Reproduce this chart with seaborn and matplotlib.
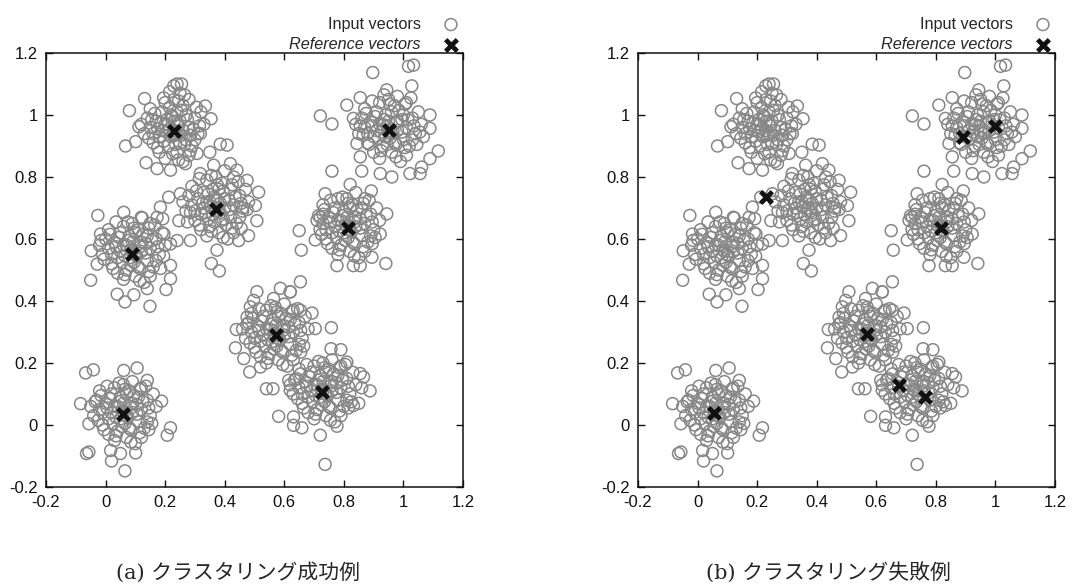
import numpy as np
import pandas as pd
import matplotlib
matplotlib.use("Agg")
import matplotlib.pyplot as plt
import seaborn as sns

# input vectors (x, y)
cluster_1 = [
    (0.23, 0.95), (0.20, 0.97), (0.25, 0.98), (0.18, 0.93), (0.27, 0.92), (0.22, 1.00), (0.26, 1.03),
    (0.19, 1.01), (0.15, 0.96), (0.16, 0.91), (0.21, 0.90), (0.24, 0.88), (0.28, 0.96), (0.30, 0.99),
    (0.29, 0.90), (0.17, 0.98), (0.13, 0.94), (0.14, 0.99), (0.23, 1.05), (0.25, 1.07), (0.20, 0.86),
    (0.26, 0.85), (0.31, 0.94), (0.32, 1.01), (0.27, 1.00), (0.22, 0.93), (0.19, 0.95), (0.24, 0.94),
    (0.21, 0.97), (0.26, 0.95), (0.18, 0.88), (0.28, 0.87), (0.15, 1.02), (0.30, 0.92), (0.23, 0.98),
    (0.24, 1.01), (0.33, 0.97), (0.12, 0.97), (0.20, 1.04), (0.28, 1.05), (0.16, 0.94), (0.25, 0.91),
    (0.215, 0.955), (0.235, 0.935), (0.245, 0.965), (0.205, 0.985), (0.255, 1.015), (0.195, 0.915),
    (0.225, 0.875), (0.265, 0.905), (0.285, 0.935), (0.175, 0.955), (0.165, 1.005), (0.215, 1.025),
    (0.245, 1.045), (0.275, 0.985), (0.295, 0.955), (0.185, 0.975), (0.235, 0.905), (0.255, 0.935),
    (0.205, 0.945), (0.225, 0.995), (0.265, 1.065), (0.155, 0.985), (0.145, 0.925), (0.305, 1.025),
    (0.195, 1.055), (0.285, 0.885), (0.175, 0.895), (0.315, 0.965), (0.215, 1.075), (0.245, 0.855),
    (0.080, 1.014), (0.131, 1.053), (0.067, 0.900), (0.136, 0.846), (0.229, 1.094), (0.240, 1.100),
    (0.255, 1.100), (0.335, 1.029), (0.354, 0.988), (0.173, 0.827), (0.218, 0.822), (0.112, 0.962),
    (0.101, 0.914), (0.318, 0.940), (0.307, 0.876), (0.268, 0.843), (0.350, 0.880),
]
cluster_2 = [
    (0.37, 0.70), (0.34, 0.72), (0.40, 0.73), (0.32, 0.68), (0.42, 0.67), (0.36, 0.76), (0.39, 0.78),
    (0.33, 0.75), (0.29, 0.71), (0.30, 0.66), (0.35, 0.64), (0.38, 0.62), (0.43, 0.71), (0.45, 0.74),
    (0.44, 0.65), (0.31, 0.73), (0.27, 0.69), (0.28, 0.74), (0.37, 0.80), (0.40, 0.82), (0.34, 0.61),
    (0.41, 0.60), (0.46, 0.69), (0.47, 0.76), (0.42, 0.76), (0.36, 0.68), (0.33, 0.70), (0.38, 0.69),
    (0.35, 0.72), (0.40, 0.70), (0.32, 0.63), (0.43, 0.62), (0.29, 0.77), (0.45, 0.67), (0.37, 0.73),
    (0.38, 0.76), (0.48, 0.72), (0.26, 0.72), (0.34, 0.79), (0.43, 0.80), (0.30, 0.69), (0.39, 0.66),
    (0.355, 0.705), (0.385, 0.685), (0.365, 0.735), (0.345, 0.665), (0.395, 0.755), (0.325, 0.715),
    (0.415, 0.695), (0.405, 0.645), (0.355, 0.625), (0.435, 0.735), (0.315, 0.645), (0.375, 0.775),
    (0.425, 0.775), (0.305, 0.755), (0.455, 0.715), (0.345, 0.745), (0.385, 0.715), (0.335, 0.685),
    (0.395, 0.665), (0.365, 0.655), (0.425, 0.635), (0.285, 0.685), (0.445, 0.785), (0.355, 0.805),
    (0.475, 0.695), (0.315, 0.795), (0.395, 0.605), (0.275, 0.655), (0.455, 0.635), (0.415, 0.725),
    (0.385, 0.906), (0.408, 0.903), (0.419, 0.843), (0.441, 0.822), (0.475, 0.789), (0.514, 0.751),
    (0.503, 0.708), (0.508, 0.659), (0.480, 0.611), (0.447, 0.595), (0.374, 0.564), (0.355, 0.521),
    (0.382, 0.497), (0.212, 0.735), (0.184, 0.703), (0.173, 0.670), (0.192, 0.665), (0.251, 0.746),
    (0.246, 0.659), (0.285, 0.595), (0.240, 0.595), (0.318, 0.811), (0.363, 0.838), (0.460, 0.700),
]
cluster_3 = [
    (0.09, 0.56), (0.06, 0.58), (0.12, 0.59), (0.04, 0.54), (0.14, 0.53), (0.08, 0.61), (0.11, 0.63),
    (0.05, 0.62), (0.01, 0.57), (0.02, 0.52), (0.07, 0.50), (0.10, 0.48), (0.15, 0.57), (0.17, 0.60),
    (0.16, 0.51), (0.03, 0.59), (-0.01, 0.55), (0.00, 0.60), (0.09, 0.65), (0.12, 0.67), (0.06, 0.47),
    (0.13, 0.46), (0.18, 0.55), (0.19, 0.62), (0.14, 0.61), (0.08, 0.54), (0.05, 0.56), (0.10, 0.55),
    (0.07, 0.58), (0.12, 0.56), (0.04, 0.49), (0.15, 0.48), (0.01, 0.63), (0.17, 0.53), (0.09, 0.59),
    (0.10, 0.62), (0.20, 0.58), (-0.02, 0.58), (0.06, 0.64), (0.15, 0.65), (0.02, 0.55), (0.11, 0.51),
    (0.085, 0.565), (0.105, 0.545), (0.075, 0.595), (0.055, 0.525), (0.125, 0.615), (0.035, 0.575),
    (0.135, 0.555), (0.115, 0.505), (0.065, 0.485), (0.155, 0.595), (0.025, 0.505), (0.095, 0.635),
    (0.145, 0.635), (0.015, 0.615), (0.175, 0.575), (0.045, 0.605), (0.095, 0.525), (0.065, 0.545),
    (0.115, 0.575), (0.085, 0.515), (0.145, 0.495), (-0.005, 0.535), (0.165, 0.645), (0.075, 0.655),
    (0.195, 0.545), (0.035, 0.655), (0.115, 0.465), (-0.015, 0.595), (0.185, 0.505), (0.135, 0.585),
    (-0.026, 0.676), (0.061, 0.686), (0.123, 0.668), (-0.048, 0.562), (-0.050, 0.467), (-0.017, 0.616),
    (0.065, 0.397), (0.149, 0.383), (0.218, 0.472), (0.203, 0.437), (0.218, 0.515), (0.196, 0.616),
    (0.218, 0.584), (0.095, 0.420), (0.140, 0.440), (-0.028, 0.519), (0.039, 0.422),
]
cluster_4 = [
    (0.95, 0.95), (0.92, 0.97), (0.98, 0.98), (0.90, 0.93), (1.00, 0.92), (0.94, 1.00), (0.97, 1.03),
    (0.91, 1.01), (0.87, 0.96), (0.88, 0.91), (0.93, 0.90), (0.96, 0.88), (1.01, 0.96), (1.03, 0.99),
    (1.02, 0.90), (0.89, 0.98), (0.85, 0.94), (0.86, 0.99), (0.95, 1.05), (0.98, 1.06), (0.92, 0.86),
    (0.99, 0.85), (1.04, 0.94), (1.05, 1.01), (1.00, 1.00), (0.94, 0.93), (0.91, 0.95), (0.96, 0.94),
    (0.93, 0.97), (0.98, 0.95), (0.90, 0.88), (1.01, 0.87), (0.87, 1.02), (1.03, 0.92), (0.95, 0.98),
    (0.96, 1.01), (1.06, 0.97), (0.84, 0.97), (0.92, 1.04), (1.01, 1.04), (0.88, 0.94), (0.97, 0.91),
    (0.945, 0.965), (0.965, 0.945), (0.935, 0.985), (0.915, 0.925), (0.985, 1.015), (0.895, 0.965),
    (0.995, 0.945), (0.975, 0.905), (0.925, 0.885), (1.015, 0.985), (0.885, 0.905), (0.955, 1.035),
    (1.005, 1.035), (0.875, 1.005), (1.035, 0.965), (0.905, 0.995), (0.955, 0.925), (0.925, 0.945),
    (0.975, 0.975), (0.945, 0.905), (1.005, 0.895), (0.865, 0.935), (1.025, 1.055), (0.935, 1.065),
    (1.055, 0.945), (0.895, 1.045), (0.975, 0.865), (0.855, 0.965), (1.045, 0.905), (0.995, 0.985),
    (0.897, 1.137), (1.017, 1.157), (1.034, 1.161), (0.944, 1.081), (1.028, 1.094), (0.855, 1.056),
    (0.810, 1.032), (0.721, 0.997), (0.760, 0.971), (0.832, 0.989), (1.089, 1.000), (1.089, 0.957),
    (1.117, 0.884), (1.089, 0.859), (1.061, 0.832), (1.022, 0.811), (1.056, 0.811), (0.961, 0.800),
    (0.922, 0.811), (0.860, 0.819), (0.844, 0.908), (0.855, 0.865), (1.067, 0.930),
]
cluster_5 = [
    (0.81, 0.64), (0.78, 0.66), (0.84, 0.67), (0.76, 0.62), (0.86, 0.61), (0.80, 0.69), (0.83, 0.71),
    (0.77, 0.70), (0.73, 0.65), (0.74, 0.60), (0.79, 0.58), (0.82, 0.56), (0.87, 0.65), (0.89, 0.68),
    (0.88, 0.59), (0.75, 0.67), (0.72, 0.63), (0.73, 0.68), (0.81, 0.73), (0.84, 0.75), (0.78, 0.55),
    (0.85, 0.54), (0.90, 0.63), (0.91, 0.70), (0.86, 0.70), (0.80, 0.62), (0.77, 0.64), (0.82, 0.63),
    (0.79, 0.66), (0.84, 0.64), (0.76, 0.57), (0.87, 0.56), (0.73, 0.71), (0.89, 0.61), (0.81, 0.67),
    (0.82, 0.70), (0.92, 0.66), (0.71, 0.66), (0.78, 0.73), (0.87, 0.73), (0.74, 0.63), (0.83, 0.59),
    (0.805, 0.645), (0.825, 0.625), (0.795, 0.675), (0.775, 0.605), (0.845, 0.695), (0.755, 0.655),
    (0.855, 0.635), (0.835, 0.585), (0.785, 0.565), (0.875, 0.675), (0.745, 0.585), (0.815, 0.715),
    (0.865, 0.715), (0.735, 0.695), (0.895, 0.655), (0.765, 0.685), (0.815, 0.605), (0.785, 0.625),
    (0.835, 0.655), (0.805, 0.595), (0.865, 0.575), (0.725, 0.615), (0.885, 0.725), (0.795, 0.735),
    (0.905, 0.605), (0.755, 0.725), (0.835, 0.545), (0.715, 0.675), (0.895, 0.585), (0.855, 0.665),
    (0.821, 0.776), (0.892, 0.755), (0.944, 0.681), (0.941, 0.521), (0.704, 0.597), (0.777, 0.514),
    (0.832, 0.514), (0.855, 0.514), (0.894, 0.541), (0.737, 0.746), (0.922, 0.616), (0.721, 0.670),
    (0.650, 0.627), (0.657, 0.564), (0.760, 0.819),
]
cluster_6 = [
    (0.57, 0.29), (0.54, 0.31), (0.60, 0.32), (0.52, 0.27), (0.62, 0.26), (0.56, 0.34), (0.59, 0.36),
    (0.53, 0.35), (0.49, 0.30), (0.50, 0.25), (0.55, 0.23), (0.58, 0.21), (0.63, 0.30), (0.65, 0.33),
    (0.64, 0.24), (0.51, 0.32), (0.47, 0.28), (0.48, 0.33), (0.57, 0.38), (0.60, 0.39), (0.54, 0.20),
    (0.61, 0.19), (0.66, 0.28), (0.67, 0.35), (0.62, 0.34), (0.56, 0.27), (0.53, 0.29), (0.58, 0.28),
    (0.55, 0.31), (0.60, 0.29), (0.52, 0.22), (0.63, 0.21), (0.49, 0.36), (0.65, 0.26), (0.57, 0.32),
    (0.58, 0.35), (0.68, 0.31), (0.46, 0.31), (0.54, 0.37), (0.63, 0.37), (0.50, 0.28), (0.59, 0.24),
    (0.565, 0.295), (0.585, 0.275), (0.555, 0.325), (0.535, 0.255), (0.605, 0.345), (0.515, 0.305),
    (0.615, 0.285), (0.595, 0.235), (0.545, 0.215), (0.635, 0.325), (0.505, 0.235), (0.575, 0.365),
    (0.625, 0.365), (0.495, 0.345), (0.655, 0.305), (0.525, 0.335), (0.575, 0.255), (0.545, 0.275),
    (0.595, 0.305), (0.565, 0.245), (0.625, 0.225), (0.485, 0.265), (0.645, 0.375), (0.555, 0.385),
    (0.665, 0.255), (0.515, 0.375), (0.595, 0.195), (0.475, 0.325), (0.655, 0.235), (0.615, 0.315),
    (0.439, 0.308), (0.436, 0.249), (0.464, 0.214), (0.484, 0.171), (0.520, 0.187), (0.540, 0.117),
    (0.562, 0.117), (0.581, 0.028), (0.486, 0.381), (0.475, 0.348), (0.693, 0.361), (0.654, 0.370),
    (0.704, 0.311), (0.497, 0.402), (0.564, 0.408), (0.654, 0.462), (0.620, 0.430), (0.587, 0.441),
    (0.508, 0.430), (0.620, 0.429),
]
cluster_7 = [
    (0.73, 0.11), (0.70, 0.13), (0.76, 0.14), (0.68, 0.09), (0.78, 0.08), (0.72, 0.16), (0.75, 0.18),
    (0.69, 0.17), (0.65, 0.12), (0.66, 0.07), (0.71, 0.05), (0.74, 0.03), (0.79, 0.12), (0.81, 0.15),
    (0.80, 0.06), (0.67, 0.14), (0.63, 0.10), (0.64, 0.15), (0.73, 0.20), (0.76, 0.21), (0.70, 0.02),
    (0.77, 0.01), (0.82, 0.10), (0.83, 0.17), (0.78, 0.16), (0.72, 0.09), (0.69, 0.11), (0.74, 0.10),
    (0.71, 0.13), (0.76, 0.11), (0.68, 0.04), (0.79, 0.03), (0.65, 0.18), (0.81, 0.08), (0.73, 0.14),
    (0.74, 0.17), (0.84, 0.13), (0.62, 0.13), (0.70, 0.19), (0.79, 0.19), (0.66, 0.10), (0.75, 0.06),
    (0.725, 0.115), (0.745, 0.095), (0.715, 0.145), (0.695, 0.075), (0.765, 0.165), (0.675, 0.125),
    (0.775, 0.105), (0.755, 0.055), (0.705, 0.035), (0.795, 0.145), (0.665, 0.055), (0.735, 0.185),
    (0.785, 0.185), (0.655, 0.165), (0.815, 0.125), (0.685, 0.155), (0.735, 0.075), (0.705, 0.095),
    (0.755, 0.125), (0.725, 0.065), (0.785, 0.045), (0.645, 0.085), (0.805, 0.195), (0.715, 0.205),
    (0.825, 0.075), (0.675, 0.195), (0.755, 0.015), (0.635, 0.145), (0.815, 0.055), (0.775, 0.135),
    (0.758, 0.314), (0.757, 0.246), (0.790, 0.243), (0.810, 0.203), (0.855, 0.166), (0.866, 0.155),
    (0.888, 0.110), (0.832, 0.063), (0.777, -0.004), (0.721, -0.033), (0.737, -0.127), (0.631, -0.001),
    (0.659, -0.009), (0.615, 0.144), (0.620, 0.112), (0.631, 0.026), (0.860, 0.120), (0.850, 0.070),
]
cluster_8 = [
    (0.06, 0.04), (0.03, 0.06), (0.09, 0.07), (0.01, 0.02), (0.11, 0.01), (0.05, 0.09), (0.08, 0.11),
    (0.02, 0.10), (-0.02, 0.05), (-0.01, 0.00), (0.04, -0.02), (0.07, -0.04), (0.12, 0.05), (0.14, 0.08),
    (0.13, -0.01), (0.00, 0.07), (-0.04, 0.03), (-0.03, 0.08), (0.06, 0.13), (0.09, 0.14), (0.03, -0.05),
    (0.10, -0.06), (0.15, 0.03), (0.16, 0.10), (0.11, 0.09), (0.05, 0.02), (0.02, 0.04), (0.07, 0.03),
    (0.04, 0.06), (0.09, 0.04), (0.01, -0.03), (0.12, -0.04), (-0.02, 0.11), (0.14, 0.01), (0.06, 0.07),
    (0.07, 0.10), (0.17, 0.06), (-0.05, 0.06), (0.03, 0.12), (0.12, 0.12), (-0.01, 0.04), (0.08, -0.01),
    (0.055, 0.045), (0.075, 0.025), (0.045, 0.075), (0.025, 0.005), (0.095, 0.095), (0.005, 0.055),
    (0.105, 0.035), (0.085, -0.015), (0.035, -0.035), (0.125, 0.075), (-0.005, -0.015), (0.065, 0.115),
    (0.115, 0.115), (-0.015, 0.095), (0.145, 0.055), (0.015, 0.085), (0.065, 0.005), (0.035, 0.025),
    (0.085, 0.055), (0.055, -0.005), (0.115, -0.025), (-0.025, 0.015), (0.135, 0.125), (0.045, 0.135),
    (0.155, 0.005), (0.005, 0.125), (0.085, -0.055), (-0.035, 0.075), (0.145, -0.015), (0.105, 0.065),
    (-0.067, 0.168), (-0.041, 0.178), (-0.084, 0.069), (-0.064, -0.092), (-0.056, -0.087), (0.020, -0.116),
    (0.065, -0.148), (0.101, -0.090), (0.188, 0.077), (0.218, -0.009), (0.207, -0.033), (0.106, 0.184),
    (0.140, 0.144), (0.061, 0.176), (0.017, -0.082), (0.050, -0.092), (-0.056, 0.004),
]

# reference vectors
ref_a_x = [0.229, 0.371, 0.089, 0.952, 0.813, 0.572, 0.726, 0.057]
ref_a_y = [0.948, 0.697, 0.551, 0.951, 0.635, 0.289, 0.106, 0.037]
ref_b_x = [0.891, 0.998, 0.230, 0.817, 0.569, 0.675, 0.763, 0.054]
ref_b_y = [0.930, 0.964, 0.737, 0.635, 0.295, 0.128, 0.090, 0.039]

tick_vals = [-0.2, 0, 0.2, 0.4, 0.6, 0.8, 1, 1.2]
tick_labels = ["-0.2", "0", "0.2", "0.4", "0.6", "0.8", "1", "1.2"]
captions = ["(a) クラスタリング成功例", "(b) クラスタリング失敗例"]

clusters = [cluster_1, cluster_2, cluster_3, cluster_4, cluster_5, cluster_6, cluster_7, cluster_8]
inputs = pd.DataFrame([p for c in clusters for p in c], columns=["x", "y"])
refs = [pd.DataFrame({"x": ref_a_x, "y": ref_a_y}), pd.DataFrame({"x": ref_b_x, "y": ref_b_y})]

sns.set_style("ticks")
plt.rcParams["font.family"] = ["Liberation Sans", "DejaVu Sans"]
plt.rcParams["axes.unicode_minus"] = False

fig = plt.figure(figsize=(10.9, 5.84), dpi=100)
lefts = [46 / 1090, 638 / 1090]
cap_x = [0.218, 0.760]

for i in range(2):
    ax = fig.add_axes([lefts[i], 1 - 487 / 584, 417 / 1090, 434 / 584])
    sns.scatterplot(data=inputs, x="x", y="y", ax=ax, marker="o", s=74,
                    facecolors="none", edgecolors="#878787", linewidths=1.1,
                    label="Input vectors")
    sns.scatterplot(data=refs[i], x="x", y="y", ax=ax, marker="x", s=70,
                    color="#111111", linewidths=3.4, label="Reference vectors",
                    zorder=5)
    ax.set_xlim(-0.2, 1.2)
    ax.set_ylim(-0.2, 1.2)
    ax.set_xticks(tick_vals)
    ax.set_xticklabels(tick_labels)
    ax.set_yticks(tick_vals)
    ax.set_yticklabels(tick_labels)
    ax.set_xlabel("")
    ax.set_ylabel("")
    ax.tick_params(direction="in", top=True, right=True, length=5, width=1,
                   labelsize=12, colors="#111111")
    ax.tick_params(axis="x", pad=6)
    ax.tick_params(axis="y", pad=6)
    for sp in ax.spines.values():
        sp.set_linewidth(1.1)
        sp.set_color("#111111")
    leg = ax.legend(loc="lower right", bbox_to_anchor=(1.012, 1.0), frameon=False,
                    markerfirst=False, fontsize=11.7, handletextpad=0.85,
                    labelspacing=0.33, borderaxespad=0.0, borderpad=0.05)
    leg.get_texts()[1].set_fontstyle("italic")
    fig.text(cap_x[i], 0.019, captions[i], ha="center", va="center", fontsize=15,
             family=["DejaVu Serif", "Noto Sans CJK JP"])

fig.savefig("out.png", dpi=100)
